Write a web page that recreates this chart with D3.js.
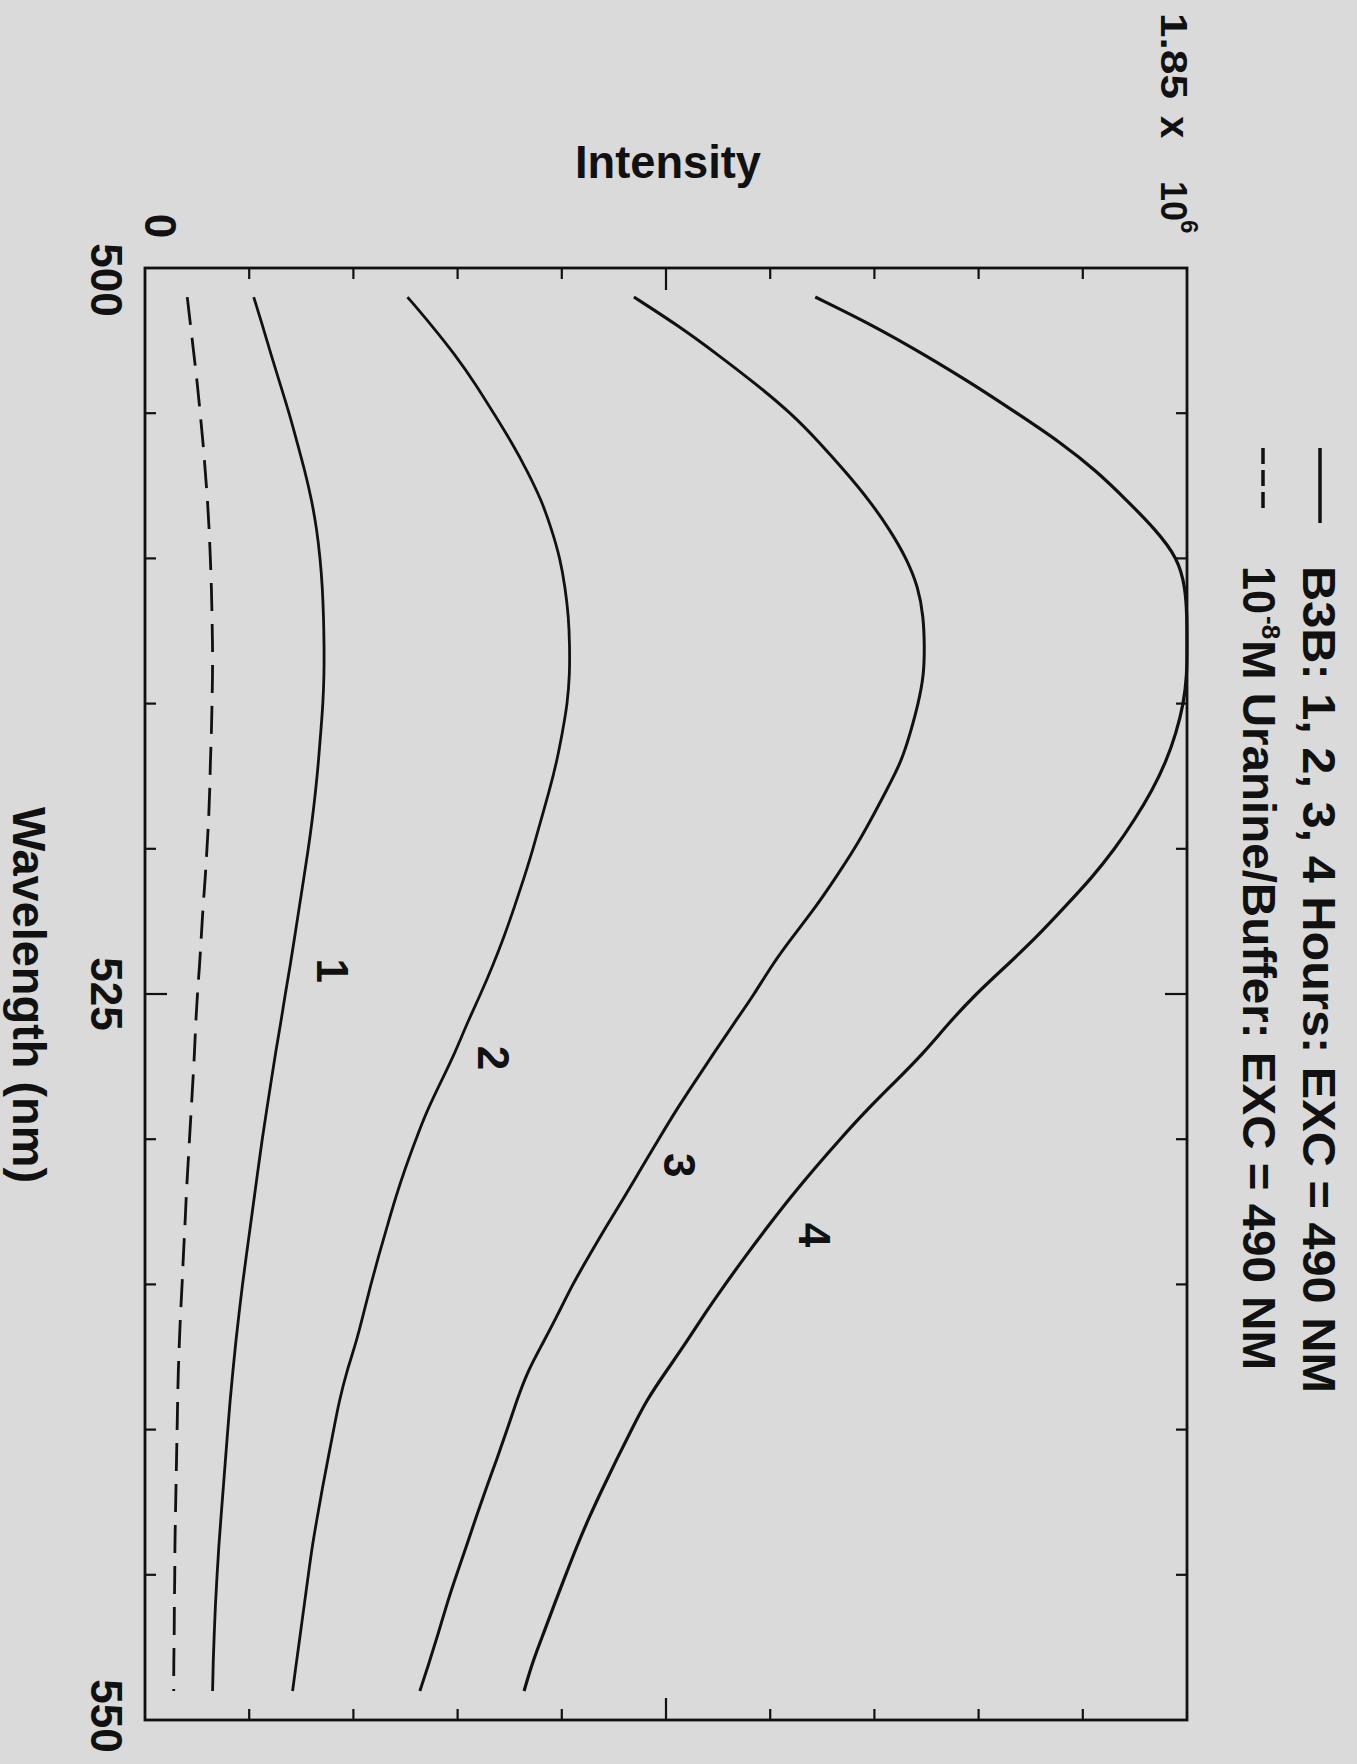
<!DOCTYPE html>
<html>
<head>
<meta charset="utf-8">
<script src="https://cdn.jsdelivr.net/npm/d3@7"></script>
<style>
  html, body { margin: 0; padding: 0; background: #d9dad9; }
  svg { display: block; }
  text { font-family: "Liberation Sans", Arial, Helvetica, sans-serif; fill: #111; }
</style>
</head>
<body>
<svg id="chart" width="1357" height="1764"></svg>
<script>
// ---------------- data (intensity in units of 10^6) ----------------
const wavelengths = [501,502,503,504,505,506,507,508,509,510,511,512,513,514,515,516,517,518,519,520,
  521,522,523,524,525,526,527,528,529,530,531,532,533,534,535,536,537,538,539,540,541,542,543,544,545,546,547,548,549];

const hour1 = [0.193,0.209,0.224,0.240,0.256,0.270,0.284,0.296,0.305,0.311,0.315,0.317,0.318,0.318,0.316,0.312,0.308,0.303,0.297,0.290,
  0.282,0.274,0.266,0.258,0.249,0.241,0.232,0.224,0.216,0.208,0.201,0.194,0.187,0.180,0.173,0.167,0.161,0.156,0.151,0.147,0.143,0.139,0.135,0.131,0.128,0.125,0.123,0.121,0.120];

const hour2 = [0.466,0.510,0.551,0.587,0.619,0.651,0.679,0.704,0.722,0.737,0.746,0.752,0.754,0.754,0.750,0.741,0.731,0.718,0.703,0.689,
  0.673,0.656,0.638,0.618,0.596,0.572,0.551,0.526,0.501,0.481,0.462,0.445,0.430,0.415,0.401,0.388,0.375,0.358,0.345,0.335,0.325,0.315,0.306,0.297,0.290,0.283,0.276,0.269,0.262];

const hour3 = [0.868,0.948,1.018,1.085,1.147,1.197,1.243,1.286,1.322,1.352,1.373,1.382,1.384,1.383,1.373,1.359,1.343,1.316,1.289,1.260,
  1.226,1.191,1.151,1.113,1.082,1.046,1.011,0.977,0.943,0.912,0.881,0.851,0.819,0.789,0.759,0.734,0.707,0.679,0.660,0.643,0.625,0.606,0.588,0.571,0.553,0.536,0.521,0.505,0.488];

const hour4 = [1.190,1.295,1.385,1.470,1.548,1.625,1.690,1.743,1.794,1.834,1.847,1.850,1.850,1.850,1.844,1.831,1.813,1.788,1.757,1.722,
  1.681,1.633,1.585,1.531,1.475,1.427,1.384,1.333,1.281,1.234,1.189,1.146,1.106,1.067,1.030,0.994,0.961,0.925,0.890,0.864,0.838,0.813,0.789,0.767,0.747,0.727,0.708,0.688,0.673];

const uranine = [0.075,0.081,0.087,0.093,0.098,0.103,0.107,0.111,0.114,0.116,0.118,0.119,0.120,0.120,0.119,0.118,0.116,0.115,0.113,0.110,
  0.107,0.103,0.100,0.097,0.093,0.090,0.088,0.085,0.082,0.079,0.076,0.073,0.071,0.068,0.066,0.063,0.061,0.059,0.058,0.057,0.056,0.055,0.054,0.053,0.053,0.052,0.052,0.051,0.051];

const intensityTicks = [0.185,0.37,0.555,0.74,0.925,1.11,1.295,1.48,1.665];
const intensityMajor = 0.925;
const wavelengthTicks = [505,510,515,520,525,530,535,540,545];
const wavelengthMajor = 525;
const wavelengthLabels = [500,525,550];
const curveLabels = ["1","2","3","4"];
const curveLabelWl = [524.2, 527.2, 530.9, 533.3];   // wavelength where each label sits
const curveLabelI  = [0.305, 0.591, 0.921, 1.161];   // intensity at the label's baseline

// ---------------- layout ----------------
const svg = d3.select("#chart");
const x = d3.scaleLinear().domain([0, 1.85]).range([145, 1187]);   // intensity -> horizontal
const y = d3.scaleLinear().domain([500, 550]).range([268, 1720]);  // wavelength -> vertical

// frame
svg.append("rect")
  .attr("x", x(0)).attr("y", y(500))
  .attr("width", x(1.85) - x(0)).attr("height", y(550) - y(500))
  .attr("fill", "none").attr("stroke", "#111").attr("stroke-width", 2.8);

const minor = 11, major = 22;
const tk = svg.append("g").attr("stroke", "#111").attr("stroke-width", 2.2);
tk.selectAll(".tt").data(intensityTicks).join("line")
  .attr("x1", d => x(d)).attr("x2", d => x(d))
  .attr("y1", y(500)).attr("y2", d => y(500) + (d === intensityMajor ? major : minor));
tk.selectAll(".tb").data(intensityTicks).join("line")
  .attr("x1", d => x(d)).attr("x2", d => x(d))
  .attr("y1", y(550)).attr("y2", d => y(550) - (d === intensityMajor ? major : minor));
tk.selectAll(".wl").data(wavelengthTicks).join("line")
  .attr("y1", d => y(d)).attr("y2", d => y(d))
  .attr("x1", x(0)).attr("x2", d => x(0) + (d === wavelengthMajor ? major : minor));
tk.selectAll(".wr").data(wavelengthTicks).join("line")
  .attr("y1", d => y(d)).attr("y2", d => y(d))
  .attr("x1", x(1.85)).attr("x2", d => x(1.85) - (d === wavelengthMajor ? major : minor));

// curves
const line = d3.line()
  .x(d => x(d[1]))
  .y(d => y(d[0]))
  .curve(d3.curveBasis);

const series = [
  {v: hour1, dash: null, w: 2.8},
  {v: hour2, dash: null, w: 2.8},
  {v: hour3, dash: null, w: 3.0},
  {v: hour4, dash: null, w: 3.2},
  {v: uranine, dash: "28,13", w: 2.8}
];
svg.append("g").selectAll("path").data(series).join("path")
  .attr("d", s => line(wavelengths.map((w, i) => [w, s.v[i]])))
  .attr("fill", "none").attr("stroke", "#111")
  .attr("stroke-width", s => s.w)
  .attr("stroke-dasharray", s => s.dash);

function rtext(px, py, str, opts = {}) {
  const t = svg.append("text")
    .attr("transform", `translate(${px},${py}) rotate(90)`)
    .attr("font-size", opts.size || 44)
    .attr("font-weight", opts.weight || "bold")
    .attr("text-anchor", opts.anchor || "start")
    .text(str);
  if (opts.len) t.attr("textLength", opts.len).attr("lengthAdjust", "spacingAndGlyphs");
  return t;
}

// curve labels
curveLabels.forEach((c, i) => {
  rtext(x(curveLabelI[i]), y(curveLabelWl[i]), c, {anchor: "middle", size: 44});
});

// axis numbers
rtext(x(0), 226, "0", {anchor: "middle", size: 44});
const wlLabelOffset = {500: 12, 525: 0, 550: -4};
wavelengthLabels.forEach(w => {
  rtext(91, y(w) + wlLabelOffset[w], String(w), {anchor: "middle", size: 44});
});

// axis titles
svg.append("text")
  .attr("x", 575).attr("y", 178)
  .attr("font-size", 46).attr("font-weight", "bold")
  .attr("textLength", 186).attr("lengthAdjust", "spacingAndGlyphs")
  .text("Intensity");
rtext(13, 807, "Wavelength (nm)", {size: 46, len: 376});

// full-scale label "1.85 x 10^6"
const fs = svg.append("text")
  .attr("transform", "translate(1161,0) rotate(90)")
  .attr("font-size", 36).attr("font-weight", "bold");
fs.append("tspan").attr("x", 13).attr("y", 0)
  .attr("textLength", 86).attr("lengthAdjust", "spacingAndGlyphs").text("1.85");
fs.append("tspan").attr("x", 116).attr("y", 0).attr("font-size", 40).text("x");
fs.append("tspan").attr("x", 181).attr("y", 0).text("10");
fs.append("tspan").attr("x", 220).attr("y", -20).attr("font-size", 24).text("6");

// legend
svg.append("line").attr("x1", 1320).attr("x2", 1320).attr("y1", 448).attr("y2", 523)
  .attr("stroke", "#111").attr("stroke-width", 3.5);
svg.append("line").attr("x1", 1263).attr("x2", 1263).attr("y1", 448).attr("y2", 508)
  .attr("stroke", "#111").attr("stroke-width", 3.5).attr("stroke-dasharray", "16,6");

rtext(1303, 566, "B3B: 1, 2, 3, 4 Hours: EXC  =  490 NM", {size: 46, len: 827});

const l2 = svg.append("text")
  .attr("transform", "translate(1243,0) rotate(90)")
  .attr("font-size", 46).attr("font-weight", "bold");
l2.append("tspan").attr("x", 566).attr("y", 0).attr("textLength", 48).attr("lengthAdjust", "spacingAndGlyphs").text("10");
l2.append("tspan").attr("x", 616).attr("y", -19).attr("font-size", 26).text("-8");
svg.append("text")
  .attr("transform", "translate(1243,640) rotate(90)")
  .attr("font-size", 46).attr("font-weight", "bold")
  .attr("textLength", 730).attr("lengthAdjust", "spacingAndGlyphs")
  .text("M Uranine/Buffer: EXC  =  490 NM");
</script>
</body>
</html>
